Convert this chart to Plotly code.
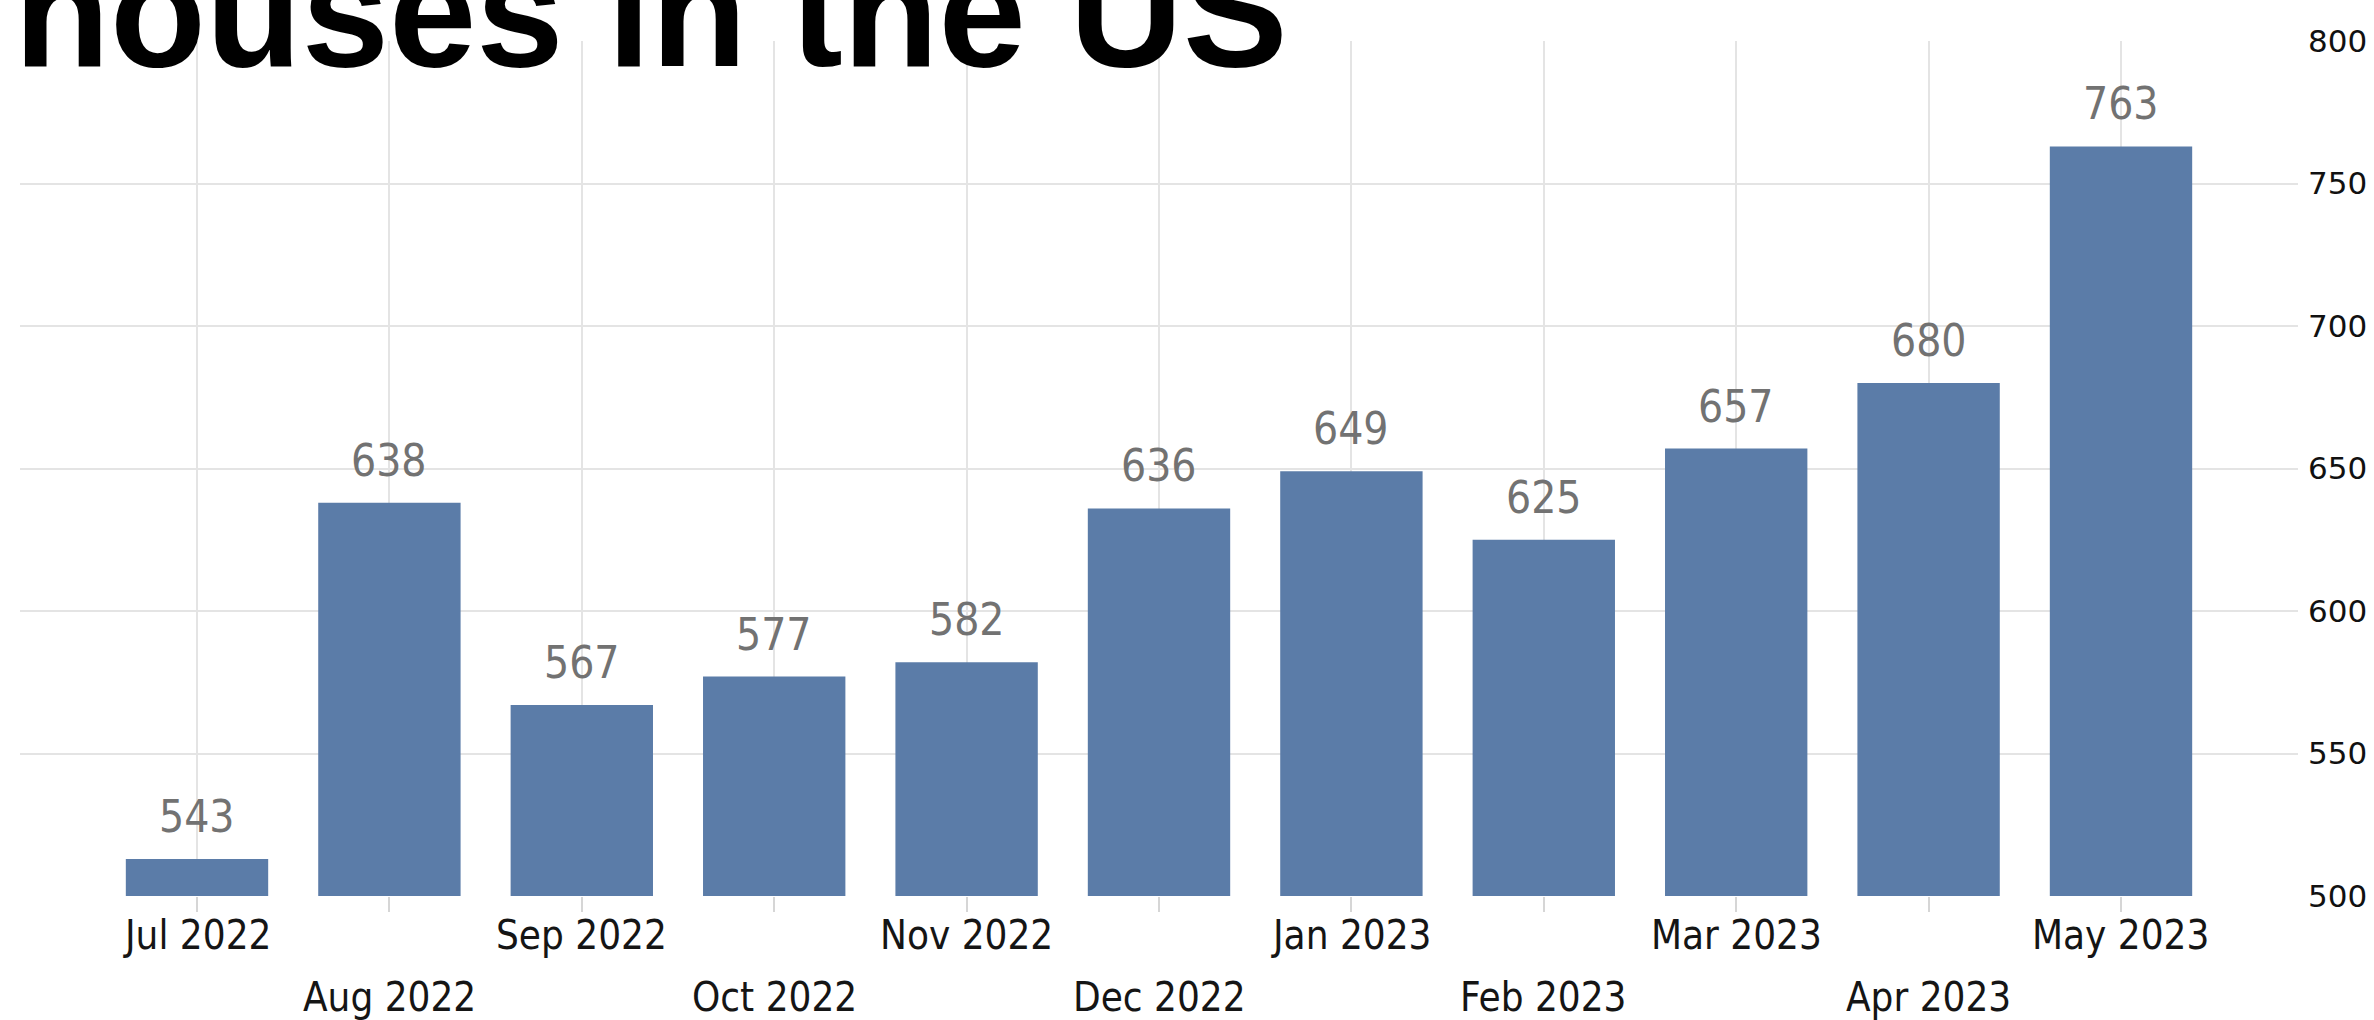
import plotly.graph_objects as go

months = ["Jul 2022", "Aug 2022", "Sep 2022", "Oct 2022", "Nov 2022", "Dec 2022",
          "Jan 2023", "Feb 2023", "Mar 2023", "Apr 2023", "May 2023"]
# bar heights as drawn in the picture
bar_values = [513, 638, 567, 577, 582, 636, 649, 625, 657, 680, 763]
# value labels printed above the bars
value_labels = ["543", "638", "567", "577", "582", "636", "649", "625", "657", "680", "763"]
y_ticks = [500, 550, 600, 650, 700, 750, 800]
title_text = "houses in the US"

W, H = 2374, 1020
ML, MR, MT, MB = 20, 76, 41, 124
BAR_COLOR = "#5b7ca8"
GRID = "#e4e4e4"
LABEL_FONT = "DejaVu Sans Condensed, DejaVu Sans"
n = len(months)
xr = [-0.92, n - 1 + 0.92]
plot_h = H - MT - MB


def paper_y(px_from_top):
    return (H - MB - px_from_top) / plot_h


fig = go.Figure()
fig.add_trace(go.Bar(x=months, y=bar_values, marker=dict(color=BAR_COLOR, line=dict(width=0)),
                     width=0.74, hoverinfo="x+y"))

# value labels above bars
for m, v, t in zip(months, bar_values, value_labels):
    fig.add_annotation(x=m, y=v, xref="x", yref="y", text=t, showarrow=False,
                       yanchor="bottom", yshift=15,
                       font=dict(family=LABEL_FONT, size=44, color="#727272"))

# month labels on two staggered rows
for i, m in enumerate(months):
    row_px = 935 if i % 2 == 0 else 997
    fig.add_annotation(x=m, y=paper_y(row_px), xref="x", yref="paper", text=m,
                       showarrow=False, yanchor="middle", xanchor="center",
                       font=dict(family=LABEL_FONT, size=40, color="#151515"))

# big cropped title
font_title = 157
fig.add_annotation(x=(12 - ML) / (W - ML - MR), y=paper_y(68 + 0.212 * font_title),
                   xref="paper", yref="paper", text="<b>" + title_text + "</b>",
                   showarrow=False, xanchor="left", yanchor="bottom",
                   font=dict(family="Liberation Sans, Arial", size=font_title, color="#000000"))

fig.update_layout(
    template="none",
    width=W, height=H,
    margin=dict(l=ML, r=MR, t=MT, b=MB, pad=0, autoexpand=False),
    paper_bgcolor="white", plot_bgcolor="white",
    showlegend=False,
    bargap=0.26,
    xaxis=dict(type="category", categoryorder="array", categoryarray=months,
               range=xr, tickvals=months, showticklabels=False, automargin=False,
               showgrid=True, gridcolor=GRID, gridwidth=1.5,
               ticks="outside", ticklen=15, tickcolor="#d6d6d6", tickwidth=1.5,
               showline=False, zeroline=False),
    yaxis=dict(side="right", range=[500, 800], tickvals=y_ticks, automargin=False,
               showgrid=True, gridcolor=GRID, gridwidth=1.5,
               ticks="", ticklabelstandoff=9, zeroline=False, showline=False,
               tickfont=dict(family="DejaVu Sans", size=31, color="#111111")),
)

fig.write_html("out.html", config={"displayModeBar": False},
               post_script="document.body.style.margin='0';document.body.style.overflow='hidden';")
